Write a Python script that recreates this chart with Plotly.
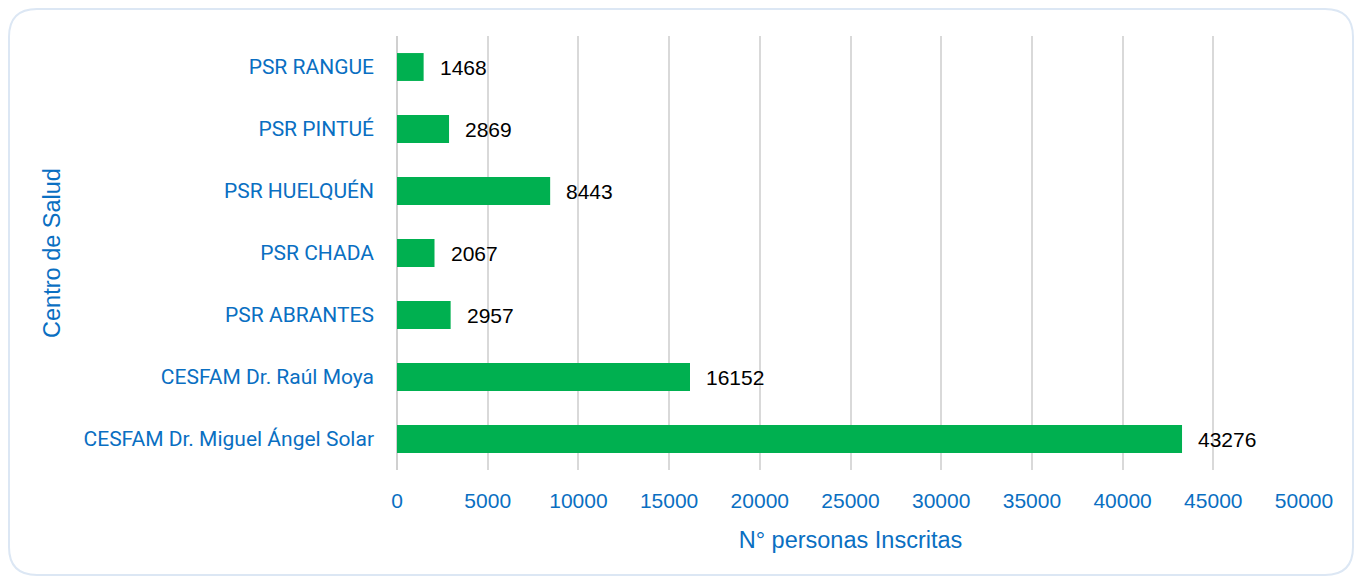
import plotly.graph_objects as go

centros = [
    "CESFAM Dr. Miguel Ángel Solar",
    "CESFAM Dr. Raúl Moya",
    "PSR ABRANTES",
    "PSR CHADA",
    "PSR HUELQUÉN",
    "PSR PINTUÉ",
    "PSR RANGUE",
]
inscritos = [43276, 16152, 2957, 2067, 8443, 2869, 1468]
x_ticks = [0, 5000, 10000, 15000, 20000, 25000, 30000, 35000, 40000, 45000, 50000]

# page is shown with an 8px body margin, so the figure itself is the frame
W, H = 1346, 568
L, R, T, B = 389, 1296, 28, 462
BLUE = "#0A6FC2"


def px(x):
    return (x - L) / (R - L)


def py(y):
    return (B - y) / (B - T)


fig = go.Figure()
fig.add_trace(go.Bar(
    y=centros,
    x=inscritos,
    orientation="h",
    marker=dict(color="#00B050", line=dict(width=0)),
    hoverinfo="x+y",
))

# value labels to the right of each bar
for c, v in zip(centros, inscritos):
    fig.add_annotation(
        x=v, y=c, text=str(v), showarrow=False,
        xanchor="left", xshift=14,
        font=dict(family="Liberation Sans, Arial", size=21, color="#000000"),
    )

# rounded frame around the chart
x0, x1, y0, y1, r = 1, W - 1, 1, H - 1, 28
path = (
    f"M {px(x0 + r)},{py(y0)} L {px(x1 - r)},{py(y0)} "
    f"Q {px(x1)},{py(y0)} {px(x1)},{py(y0 + r)} "
    f"L {px(x1)},{py(y1 - r)} Q {px(x1)},{py(y1)} {px(x1 - r)},{py(y1)} "
    f"L {px(x0 + r)},{py(y1)} Q {px(x0)},{py(y1)} {px(x0)},{py(y1 - r)} "
    f"L {px(x0)},{py(y0 + r)} Q {px(x0)},{py(y0)} {px(x0 + r)},{py(y0)} Z"
)
fig.add_shape(type="path", path=path, xref="paper", yref="paper",
              line=dict(color="#DCE7F4", width=2), layer="below")

fig.update_layout(
    width=W, height=H,
    margin=dict(l=L, r=W - R, t=T, b=H - B, pad=0),
    paper_bgcolor="white",
    plot_bgcolor="white",
    bargap=0.55,
    showlegend=False,
    xaxis=dict(
        range=[0, 50000],
        tickvals=x_ticks,
        ticktext=[str(t) for t in x_ticks],
        showgrid=True, gridcolor="#D9D9D9", gridwidth=2,
        zeroline=True, zerolinecolor="#D0D0D0", zerolinewidth=2,
        showline=False,
        ticks="", ticklabelstandoff=16,
        tickfont=dict(family="Liberation Sans, Arial", size=21, color=BLUE),
        title=dict(text="N° personas Inscritas", standoff=20,
                   font=dict(family="Liberation Sans, Arial", size=23.5, color=BLUE)),
    ),
    yaxis=dict(
        categoryorder="array", categoryarray=centros,
        showgrid=False, showline=False, ticks="",
        ticklabelstandoff=22,
        tickfont=dict(family="Roboto", size=21, color=BLUE),
        title=dict(text="Centro de Salud", standoff=16,
                   font=dict(family="Liberation Sans, Arial", size=23.5, color=BLUE)),
    ),
)

fig.write_html("out.html")
